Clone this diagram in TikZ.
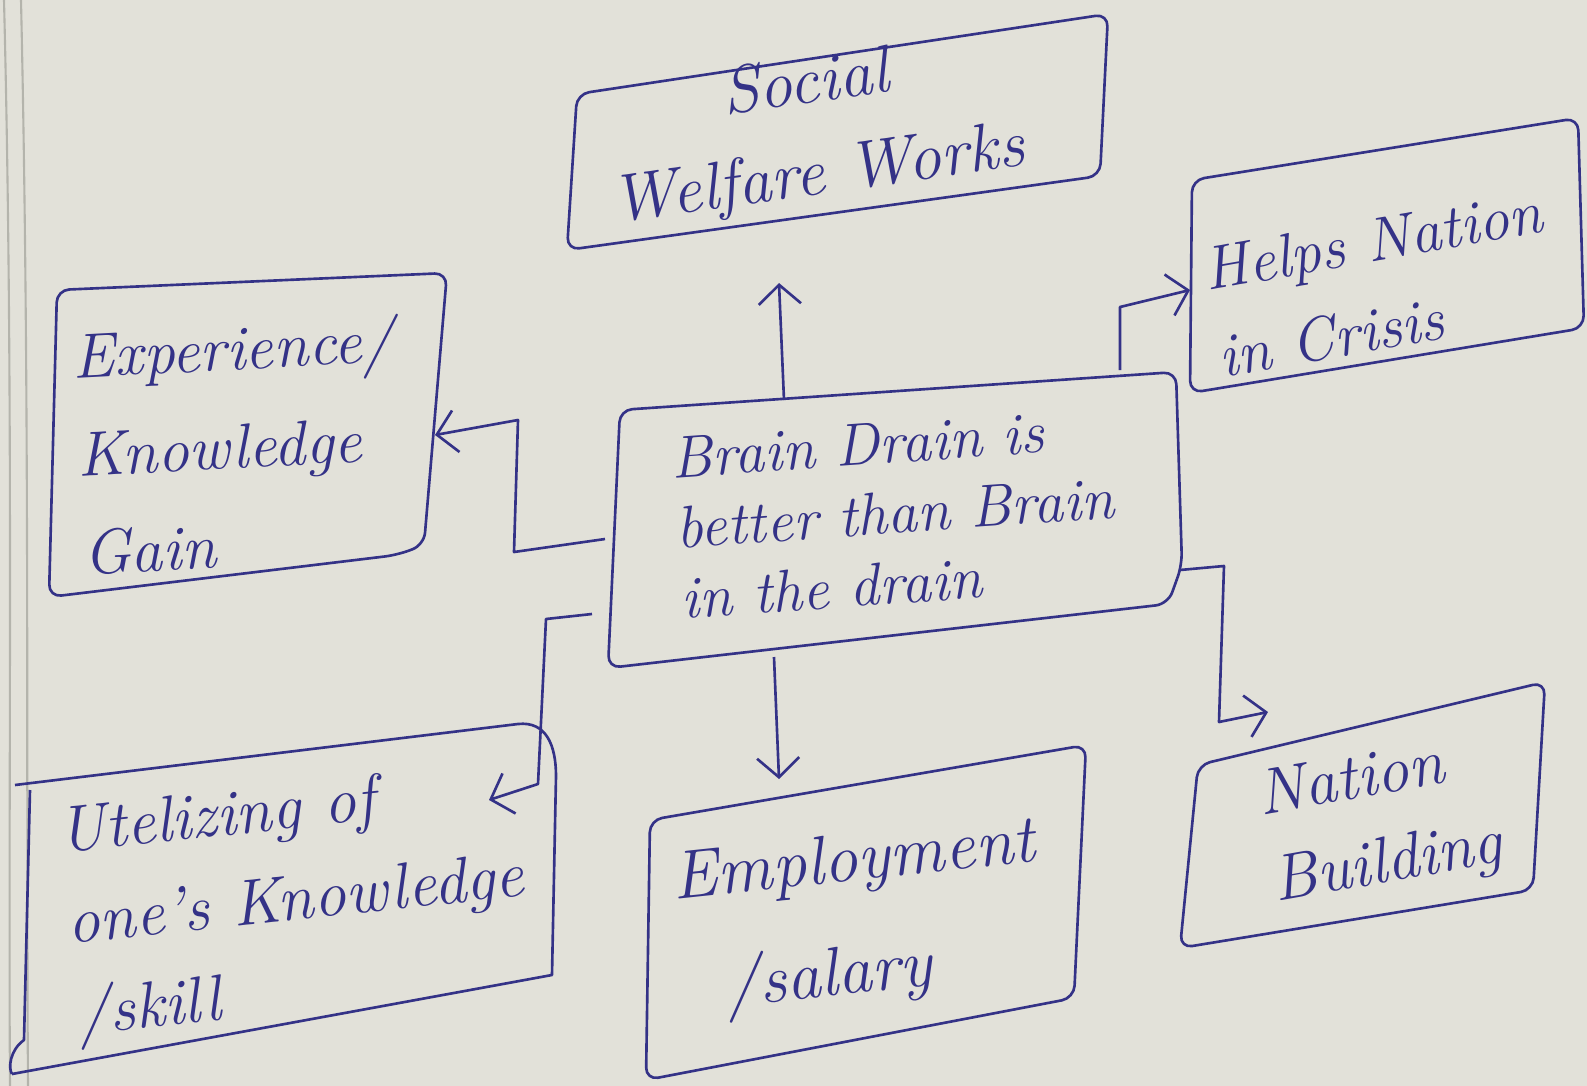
\documentclass[tikz,border=0pt]{standalone}
\usetikzlibrary{arrows.meta}
\definecolor{ink}{RGB}{52,50,135}
\definecolor{paper}{RGB}{226,225,217}
\definecolor{margincol}{RGB}{180,180,172}
\begin{document}
\begin{tikzpicture}[x=0.02cm,y=-0.02cm,
  box/.style={draw=ink,line width=1.5pt,rounded corners=7pt,line join=round},
  txt/.style={text=ink,align=left,inner sep=0pt},
  link/.style={draw=ink,line width=1.5pt,line join=round,-{Straight Barb[length=11pt,width=24pt,line width=1.5pt]}},
  plain/.style={draw=ink,line width=1.5pt,line join=round}]
\fill[paper] (0,0) rectangle (1587,1086);
\useasboundingbox (0,0) rectangle (1587,1086);
% margin lines
\draw[margincol,line width=1.2pt] (4,0) .. controls (14,400) and (8,800) .. (10,1086);
\draw[margincol,line width=1.2pt] (21,0) .. controls (30,400) and (26,800) .. (28,1086);

% ---- box outlines (corner coordinates)
\coordinate (swA) at (577,94);  \coordinate (swB) at (1108,14);
\coordinate (swC) at (1100,176); \coordinate (swD) at (567,250);
\draw[box] (swA) -- (swB) -- (swC) -- (swD) -- cycle;

\coordinate (hnA) at (1192,180); \coordinate (hnB) at (1578,118);
\coordinate (hnC) at (1584,328); \coordinate (hnD) at (1190,393);
\draw[box] (hnA) -- (hnB) -- (hnC) -- (hnD) -- cycle;

\coordinate (exA) at (57,290);  \coordinate (exB) at (447,273);
\coordinate (exC) at (424,545); \coordinate (exC2) at (397,555);
\coordinate (exD) at (49,597);
\draw[box] (exA) -- (exB) -- (exC) -- (exC2) -- (exD) -- cycle;

\coordinate (ceA) at (620,410); \coordinate (ceB) at (1176,372);
\coordinate (ceC) at (1182,565); \coordinate (ceC2) at (1168,604);
\coordinate (ceD) at (608,668);
\draw[box] (ceA) -- (ceB) -- (ceC) -- (ceC2) -- (ceD) -- cycle;

\coordinate (utA) at (15,785); \coordinate (utB) at (518,724);
\coordinate (utB2) at (556,776); \coordinate (utC) at (552,975);
\coordinate (utD) at (12,1074);
\draw[plain] (utA) -- (utB) .. controls (546,721) and (556,745) .. (utB2)
  -- (utC) -- (utD);
\draw[plain] (30,790) -- (24,1040) .. controls (10,1050) and (8,1068) .. (utD);

\coordinate (emA) at (650,820); \coordinate (emB) at (1086,745);
\coordinate (emC) at (1074,998); \coordinate (emD) at (646,1080);
\draw[box] (emA) -- (emB) -- (emC) -- (emD) -- cycle;

\coordinate (nbA) at (1198,765); \coordinate (nbB) at (1545,682);
\coordinate (nbC) at (1533,890); \coordinate (nbD) at (1180,948);
\draw[box] (nbA) -- (nbB) -- (nbC) -- (nbD) -- cycle;

% ---- texts
\node[txt,align=center,rotate=8,font=\fontsize{38}{52}\selectfont\itshape] (sw) at (812,132) {Social\\Welfare Works};
\node[txt,rotate=10,font=\fontsize{35}{50}\selectfont\itshape] (hn) at (1380,284) {Helps Nation\\in Crisis};
\node[txt,rotate=3,font=\fontsize{36}{56}\selectfont\itshape] (ex) at (238,445) {Experience/\\Knowledge\\Gain};
\node[txt,rotate=4,font=\fontsize{34}{40}\selectfont\itshape] (ce) at (895,513) {Brain Drain is\\better than Brain\\in the drain};
\node[txt,rotate=6,font=\fontsize{37}{52}\selectfont\itshape] (ut) at (296,905) {Utelizing of\\one's Knowledge\\/skill};
\node[txt,rotate=6,font=\fontsize{39}{64}\selectfont\itshape] (em) at (860,921) {Employment\\\hspace*{0.6em}/salary};
\node[txt,rotate=10,font=\fontsize{37}{50}\selectfont\itshape] (nb) at (1380,823) {Nation\\Building};

% ---- connectors
\coordinate (c1s) at (784,400); \coordinate (c1t) at (779,283);
\draw[link] (c1s) -- (c1t);

\coordinate (c2s) at (1120,370); \coordinate (c2m) at (1120,307); \coordinate (c2t) at (1190,290);
\draw[link] (c2s) -- (c2m) -- (c2t);

\coordinate (c3s) at (605,539); \coordinate (c3m1) at (514,552);
\coordinate (c3m2) at (518,420); \coordinate (c3t) at (435,435);
\draw[link] (c3s) -- (c3m1) -- (c3m2) -- (c3t);

\coordinate (c4s) at (592,614); \coordinate (c4m1) at (546,619);
\coordinate (c4m2) at (538,784); \coordinate (c4t) at (489,800);
\draw[link] (c4s) -- (c4m1) -- (c4m2) -- (c4t);

\coordinate (c5s) at (774,657); \coordinate (c5t) at (779,779);
\draw[link] (c5s) -- (c5t);

\coordinate (c6s) at (1180,570); \coordinate (c6m1) at (1224,566);
\coordinate (c6m2) at (1219,722); \coordinate (c6t) at (1268,712);
\draw[link] (c6s) -- (c6m1) -- (c6m2) -- (c6t);
\end{tikzpicture}
\end{document}
